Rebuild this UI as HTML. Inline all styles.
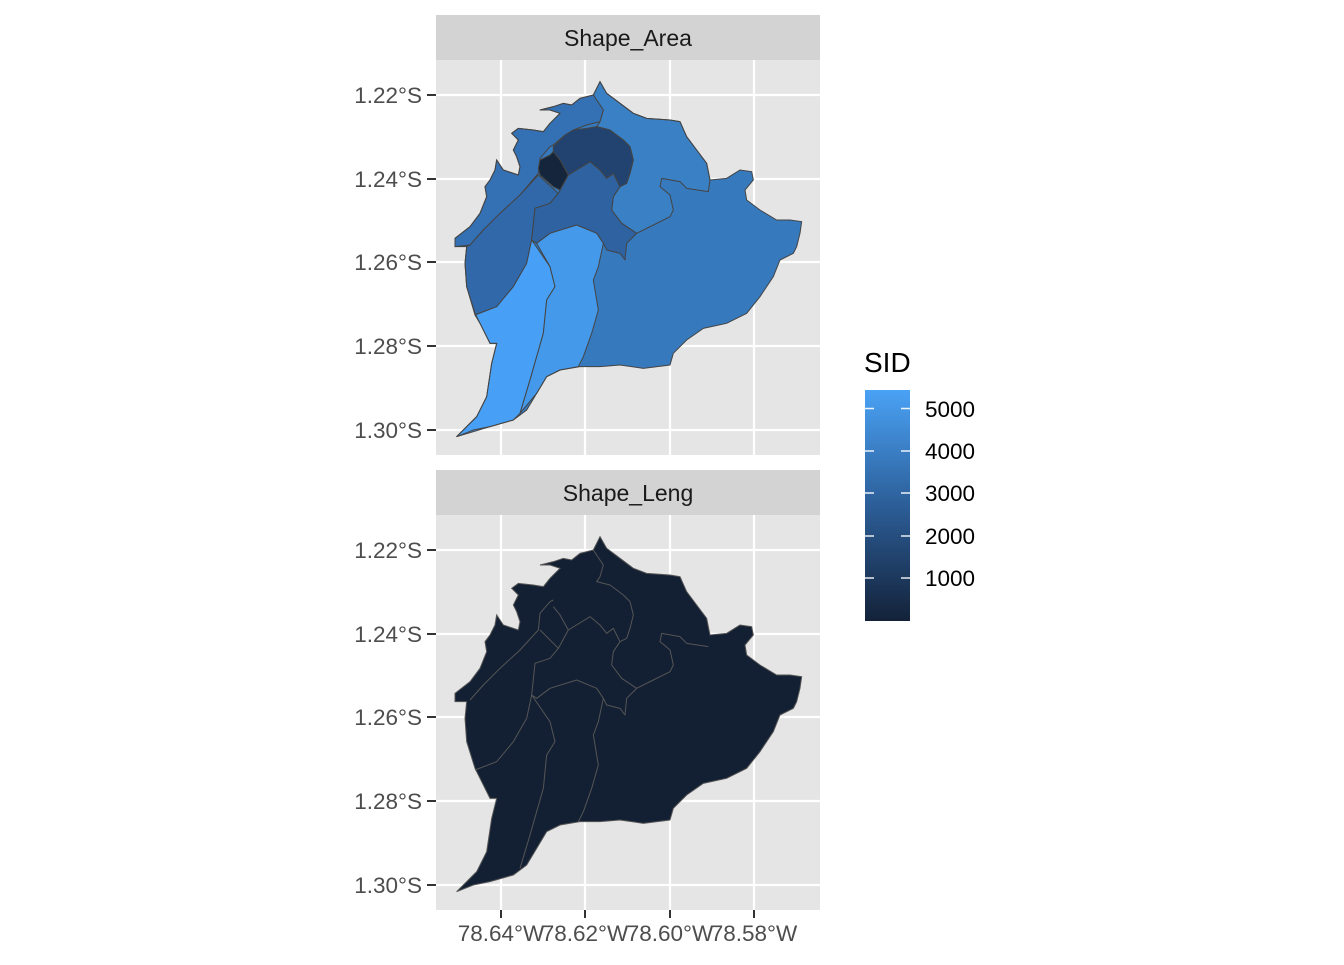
<!DOCTYPE html>
<html><head><meta charset="utf-8"><style>
html,body{margin:0;padding:0;background:#fff;}
svg text{font-family:"Liberation Sans",Arial,sans-serif;}
</style></head><body>
<svg width="1344" height="960" viewBox="0 0 1344 960" xmlns="http://www.w3.org/2000/svg">
<defs>
<linearGradient id="cb" x1="0" y1="0" x2="0" y2="1">
<stop offset="0" stop-color="#4aa2f5"/><stop offset="0.5" stop-color="#2c5e98"/><stop offset="1" stop-color="#132239"/>
</linearGradient>
<path id="outline" d="M480,5 L500,40 540,70 580,100 620,115 690,120 720,125 740,170 770,210 800,250 810,300 860,295 900,270 935,275 940,300 915,330 920,360 960,390 1010,420 1050,420 1085,425 1080,460 1070,500 1060,520 1020,540 1000,590 960,650 920,700 860,730 790,745 740,780 700,820 690,855 610,865 540,855 480,860 420,860 360,870 320,890 290,940 260,990 220,1020 150,1040 100,1050 50,1070 110,1010 140,950 155,850 170,790 150,790 120,730 105,700 80,620 75,550 80,500 45,500 45,475 90,440 120,400 140,350 135,320 150,300 165,270 170,240 190,270 235,285 240,260 230,230 220,210 235,180 215,160 235,145 280,150 310,155 330,130 360,100 330,90 300,90 340,80 370,70 395,75 420,55 460,45 Z"/>
<g id="regions">
<path d="M460,45 L480,5 500,40 540,70 580,100 620,115 690,120 720,125 740,170 770,210 800,250 810,300 805,335 740,325 720,305 665,295 660,320 690,345 700,390 690,410 640,435 590,460 545,430 515,390 520,350 540,320 560,310 570,280 580,240 570,200 550,180 510,150 470,140 480,125 490,90 Z" fill="#3a80c5"/>
<path d="M45,475 L90,440 120,400 140,350 135,320 150,300 165,270 170,240 190,270 235,285 240,260 230,230 220,210 235,180 215,160 235,145 280,150 310,155 330,130 360,100 330,90 300,90 340,80 370,70 395,75 420,55 460,45 490,90 480,125 440,135 400,150 375,165 340,195 330,200 300,235 295,280 240,345 180,400 130,450 90,495 45,500 Z" fill="#3470b4"/>
<path d="M90,495 L130,450 180,400 240,345 295,285 355,340 330,370 285,385 275,480 260,550 220,620 170,680 105,705 80,620 75,550 80,500 Z" fill="#3068a9"/>
<path d="M355,340 L385,285 450,245 480,270 500,295 520,280 530,300 540,320 520,350 515,390 545,430 590,460 560,490 555,540 540,520 500,510 490,490 470,460 410,435 330,460 290,490 275,480 285,385 330,370 Z" fill="#2e62a0"/>
<path d="M340,200 L375,165 400,150 440,145 470,140 510,150 550,180 570,200 580,240 570,280 560,310 540,320 530,300 520,280 500,295 480,270 450,245 385,285 360,240 340,215 Z" fill="#22436f"/>
<path d="M300,240 L330,225 340,215 360,240 385,285 360,330 340,320 300,285 295,265 Z" fill="#14253c"/>
<path d="M275,480 L330,560 345,620 320,660 310,760 290,830 270,900 240,1000 220,1020 150,1040 50,1070 110,1010 140,950 155,850 170,790 150,790 120,730 105,705 170,680 220,620 260,550 Z" fill="#47a0f5"/>
<path d="M290,490 L330,460 410,435 470,460 490,490 475,560 460,600 475,690 455,760 430,830 415,860 360,870 320,890 290,940 240,1000 270,900 310,760 320,660 345,620 330,560 Z" fill="#4499ea"/>
</g>
</defs>
<!-- panel 1 -->
<rect x="436" y="15" width="384" height="45" fill="#d3d3d3"/>
<text x="628" y="46" font-size="23" text-anchor="middle" fill="#1a1a1a">Shape_Area</text>
<rect x="436" y="60" width="384" height="395" fill="#e5e5e5"/>
<g stroke="#fff" stroke-width="2.2">
<line x1="501" y1="60" x2="501" y2="455"/><line x1="585" y1="60" x2="585" y2="455"/><line x1="670" y1="60" x2="670" y2="455"/><line x1="754" y1="60" x2="754" y2="455"/>
<line x1="436" y1="95" x2="820" y2="95"/><line x1="436" y1="179" x2="820" y2="179"/><line x1="436" y1="262" x2="820" y2="262"/><line x1="436" y1="346" x2="820" y2="346"/><line x1="436" y1="430" x2="820" y2="430"/>
</g>
<g transform="translate(440,80) scale(0.33333)">
<use href="#outline" fill="#3679bd"/>
<g stroke="#444" stroke-width="3" stroke-linejoin="round"><use href="#regions"/></g>
<use href="#outline" fill="none" stroke="#444" stroke-width="3"/>
</g>
<!-- panel 2 -->
<rect x="436" y="470" width="384" height="45" fill="#d3d3d3"/>
<text x="628" y="501" font-size="23" text-anchor="middle" fill="#1a1a1a">Shape_Leng</text>
<rect x="436" y="515" width="384" height="395" fill="#e5e5e5"/>
<g stroke="#fff" stroke-width="2.2">
<line x1="501" y1="515" x2="501" y2="910"/><line x1="585" y1="515" x2="585" y2="910"/><line x1="670" y1="515" x2="670" y2="910"/><line x1="754" y1="515" x2="754" y2="910"/>
<line x1="436" y1="550" x2="820" y2="550"/><line x1="436" y1="634" x2="820" y2="634"/><line x1="436" y1="717" x2="820" y2="717"/><line x1="436" y1="801" x2="820" y2="801"/><line x1="436" y1="885" x2="820" y2="885"/>
</g>
<g transform="translate(440,535) scale(0.33333)">
<use href="#outline" fill="#132033"/>
<g fill="#132033" stroke="#555" stroke-width="3" stroke-linejoin="round">
<path d="M805,335 L740,325 720,305 665,295 660,320 690,345 700,390 690,410 640,435 590,460 545,430 515,390 520,350 540,320 560,310 570,280 580,240 570,200 550,180 510,150 470,140 480,125 490,90 460,45" fill="none"/>
<path d="M90,495 L130,450 180,400 240,345 295,285 300,235 330,200 340,195" fill="none"/>
<path d="M355,340 L330,370 285,385 275,480 260,550 220,620 170,680 105,705" fill="none"/>
<path d="M300,285 L355,340 385,285 360,240 340,215" fill="none"/>
<path d="M385,285 L450,245 480,270 500,295 520,280 530,300 540,320" fill="none"/>
<path d="M590,460 L560,490 555,540 540,520 500,510 490,490 470,460 410,435 330,460 290,490 275,480" fill="none"/>
<path d="M275,480 L330,560 345,620 320,660 310,760 290,830 270,900 240,1000" fill="none"/>
<path d="M490,490 L475,560 460,600 475,690 455,760 430,830 415,860" fill="none"/>
</g>
<use href="#outline" fill="none" stroke="#555" stroke-width="3"/>
</g>
<!-- y axes -->
<g font-size="22.5" fill="#4d4d4d" text-anchor="end">
<text x="422" y="103">1.22°S</text><text x="422" y="187">1.24°S</text><text x="422" y="270">1.26°S</text><text x="422" y="354">1.28°S</text><text x="422" y="438">1.30°S</text>
<text x="422" y="558">1.22°S</text><text x="422" y="642">1.24°S</text><text x="422" y="725">1.26°S</text><text x="422" y="809">1.28°S</text><text x="422" y="893">1.30°S</text>
</g>
<g stroke="#333" stroke-width="2">
<line x1="427" y1="95" x2="436" y2="95"/><line x1="427" y1="179" x2="436" y2="179"/><line x1="427" y1="262" x2="436" y2="262"/><line x1="427" y1="346" x2="436" y2="346"/><line x1="427" y1="430" x2="436" y2="430"/>
<line x1="427" y1="550" x2="436" y2="550"/><line x1="427" y1="634" x2="436" y2="634"/><line x1="427" y1="717" x2="436" y2="717"/><line x1="427" y1="801" x2="436" y2="801"/><line x1="427" y1="885" x2="436" y2="885"/>
<line x1="501" y1="910" x2="501" y2="918"/><line x1="585" y1="910" x2="585" y2="918"/><line x1="670" y1="910" x2="670" y2="918"/><line x1="754" y1="910" x2="754" y2="918"/>
</g>
<g font-size="22.5" fill="#4d4d4d" text-anchor="middle">
<text x="501" y="941">78.64°W</text><text x="585" y="941">78.62°W</text><text x="670" y="941">78.60°W</text><text x="754" y="941">78.58°W</text>
</g>
<!-- legend -->
<text x="864" y="372" font-size="28" fill="#000">SID</text>
<rect x="865" y="390" width="45" height="231" fill="url(#cb)"/>
<g stroke="#fff" stroke-width="1.5" opacity="0.9">
<line x1="865" y1="408.5" x2="874" y2="408.5"/><line x1="901" y1="408.5" x2="910" y2="408.5"/>
<line x1="865" y1="451" x2="874" y2="451"/><line x1="901" y1="451" x2="910" y2="451"/>
<line x1="865" y1="493" x2="874" y2="493"/><line x1="901" y1="493" x2="910" y2="493"/>
<line x1="865" y1="536" x2="874" y2="536"/><line x1="901" y1="536" x2="910" y2="536"/>
<line x1="865" y1="578" x2="874" y2="578"/><line x1="901" y1="578" x2="910" y2="578"/>
</g>
<g font-size="22.5" fill="#000">
<text x="925" y="417">5000</text><text x="925" y="459">4000</text><text x="925" y="501">3000</text><text x="925" y="544">2000</text><text x="925" y="586">1000</text>
</g>
</svg>
</body></html>
